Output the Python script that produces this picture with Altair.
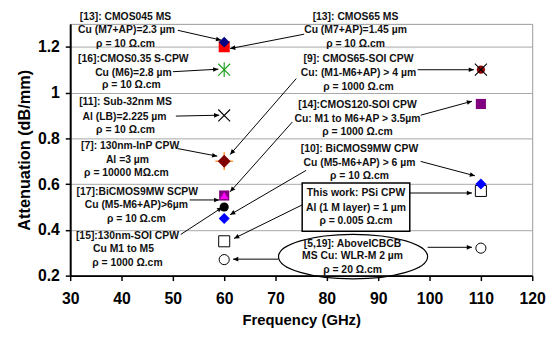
import math
import altair as alt
import pandas as pd

# ---------------- data ----------------
# measured points: frequency (GHz), attenuation (dB/mm)
f_13a = [60];        a_13a = [1.22]          # [13] CMOS045 MS
f_13b = [60];        a_13b = [1.20]          # [13] CMOS65 MS
f_16 = [60];         a_16 = [1.10]           # [16] CMOS0.35 S-CPW
f_11 = [60];         a_11 = [0.90]           # [11] Sub-32nm MS
f_9a = [60];         a_9a = [0.70]           # [9] CMOS65-SOI CPW @60
f_9b = [110];        a_9b = [1.10]           # [9] CMOS65-SOI CPW @110
f_7 = [60];          a_7 = [0.70]            # [7] 130nm-InP CPW
f_14 = [60, 110];    a_14 = [0.55, 0.95]     # [14] CMOS120-SOI CPW
f_17 = [60];         a_17 = [0.55]           # [17] BiCMOS9MW SCPW
f_15 = [60];         a_15 = [0.50]           # [15] 130nm-SOI CPW
f_10 = [60, 110];    a_10 = [0.45, 0.60]     # [10] BiCMOS9MW CPW
f_tw = [60, 110];    a_tw = [0.35, 0.57]     # This work PSi CPW
f_519 = [60, 110];   a_519 = [0.27, 0.32]    # [5,19] AboveICBCB

x_ticks = [30, 40, 50, 60, 70, 80, 90, 100, 110, 120]
y_ticks = [0.2, 0.4, 0.6, 0.8, 1.0, 1.2]

# annotation texts and their anchor (in data units)
label_text = [
    "[13]: CMOS045 MS", "Cu (M7+AP)=2.3 µm", "ρ = 10 Ω.cm",
    "[16]:CMOS0.35 S-CPW", "Cu (M6)=2.8 µm", "ρ = 10 Ω.cm",
    "[11]: Sub-32nm MS", "Al (LB)=2.225 µm", "ρ = 10 Ω.cm",
    "[7]: 130nm-InP CPW", "Al =3 µm", "ρ = 10000 MΩ.cm",
    "[17]:BiCMOS9MW SCPW", "Cu (M5-M6+AP)>6µm", "ρ = 10 Ω.cm",
    "[15]:130nm-SOI CPW", "Cu M1 to M5", "ρ = 1000 Ω.cm",
    "[13]: CMOS65 MS", "Cu (M7+AP)=1.45 µm", "ρ = 10 Ω.cm",
    "[9]: CMOS65-SOI CPW", "Cu: (M1-M6+AP) > 4 µm", "ρ = 1000 Ω.cm",
    "[14]:CMOS120-SOI CPW", "Cu: M1 to M6+AP > 3.5µm", "ρ = 1000 Ω.cm",
    "[10]: BiCMOS9MW CPW", "Cu (M5-M6+AP) > 6 µm", "ρ = 10 Ω.cm",
    "This work: PSi CPW", "Al (1 M layer) = 1 µm", "ρ = 0.005 Ω.cm",
    "[5,19]: AboveICBCB", "MS Cu: WLR-M 2 µm", "ρ = 20 Ω.cm",
]
label_x = [40.77, 40.96, 40.77, 42.31, 42.31, 41.92, 40.77, 40.58, 40.77,
           41.67, 41.15, 40.96, 43.08, 42.88, 42.88, 41.15, 40.38, 41.15,
           85.58, 85.58, 85.58, 86.15, 86.15, 86.15, 85.96, 85.96, 85.96,
           86.35, 86.35, 86.35, 85.67, 85.67, 85.67, 85.0, 85.0, 85.0]
label_y = [1.332, 1.273, 1.213, 1.147, 1.087, 1.031, 0.959, 0.894, 0.835,
           0.765, 0.707, 0.650, 0.566, 0.509, 0.447, 0.372, 0.315, 0.253,
           1.332, 1.272, 1.2125, 1.147, 1.087, 1.026, 0.944, 0.884, 0.828,
           0.755, 0.692, 0.634, 0.5595, 0.497, 0.440, 0.3366, 0.285, 0.2224]

# arrows: start -> tip (data units)
arrow_x1 = [50.96, 75.58, 50.00, 50.58, 50.96, 74.04, 97.69, 73.27, 98.27,
            75.96, 98.27, 75.19, 96.15, 70.58, 99.62, 53.27, 51.54]
arrow_y1 = [1.272, 1.255, 1.091, 0.897, 0.755, 1.061, 1.0996, 0.871, 0.901,
            0.660, 0.699, 0.509, 0.561, 0.272, 0.3237, 0.5306, 0.380]
arrow_x2 = [59.42, 61.15, 58.85, 59.04, 58.65, 61.15, 108.65, 61.15, 108.27,
            61.15, 108.85, 61.92, 108.27, 61.73, 108.27, 59.04, 59.62]
arrow_y2 = [1.229, 1.192, 1.102, 0.901, 0.722, 0.729, 1.0996, 0.566, 0.962,
            0.466, 0.636, 0.3625, 0.561, 0.272, 0.3237, 0.5306, 0.498]

# "This work" frame and [5,19] ellipse
box_x = [75.19]; box_x2 = [96.15]; box_y = [0.605]; box_y2 = [0.394]
ell_x = [85.1]; ell_y = [0.283]

# ---------------- chart ----------------
W, H = 468, 255
XD, YD = [30, 120], [0.2, 1.3]
FONT = "Liberation Sans"

xs = alt.Scale(domain=XD, nice=False, zero=False)
ys = alt.Scale(domain=YD, nice=False, zero=False)
xaxis = alt.Axis(values=x_ticks, title="Frequency (GHz)", grid=False,
                 labelFont=FONT, labelFontSize=16, labelFontWeight="bold",
                 labelColor="black", labelPadding=10, tickSize=5,
                 tickColor="black", tickWidth=1.5, domainColor="black",
                 domainWidth=2, titleFont=FONT, titleFontSize=15,
                 titleFontWeight="bold", titleColor="black",
                 titleX=W / 2, titleY=50, titleBaseline="alphabetic",
                 titleAlign="center", labelFlush=False)
yaxis = alt.Axis(values=y_ticks, format=".1~f", title="Attenuation (dB/mm)",
                 grid=True, gridColor="#a6a6a6", gridWidth=1,
                 labelFont=FONT, labelFontSize=16, labelFontWeight="bold",
                 labelColor="black", labelPadding=6, tickSize=5,
                 tickColor="black", tickWidth=1.5, domainColor="black",
                 domainWidth=2, titleFont=FONT, titleFontSize=16.5,
                 titleFontWeight="bold", titleColor="black",
                 titleX=-46, titleY=H / 2, titleAngle=270,
                 titleBaseline="middle", titleAlign="center", labelFlush=False)

X = alt.X("x:Q", scale=xs, axis=xaxis)
Y = alt.Y("y:Q", scale=ys, axis=yaxis)


def pts(f, a):
    return pd.DataFrame({"x": f, "y": a})


def marker(f, a, **kw):
    kw.setdefault("opacity", 1)
    return alt.Chart(pts(f, a)).mark_point(**kw).encode(x=X, y=Y)


XPATH = "M-1,-1L1,1M-1,1L1,-1"
STAR = "M-1,-1L1,1M-1,1L1,-1M0,-1.25L0,1.25"
PLUS = "M-1,0L1,0M0,-1L0,1"
HEAD = "M0,0L-1,-0.45L-1,0.45Z"
ELLIPSE = "M-1,0A1,0.298 0 1,1 1,0A1,0.298 0 1,1 -1,0Z"

# arrows
kx, ky = W / (XD[1] - XD[0]), H / (YD[1] - YD[0])
angles = [math.degrees(math.atan2(-(y2 - y1) * ky, (x2 - x1) * kx)) % 360
          for x1, y1, x2, y2 in zip(arrow_x1, arrow_y1, arrow_x2, arrow_y2)]
arr = pd.DataFrame({"x": arrow_x1, "y": arrow_y1, "x2": arrow_x2,
                    "y2": arrow_y2, "ang": angles})
rules = alt.Chart(arr).mark_rule(color="black", strokeWidth=1).encode(
    x=X, y=Y, x2="x2:Q", y2="y2:Q")
heads = alt.Chart(arr).mark_point(shape=HEAD, filled=True, color="black",
                                  size=110, opacity=1).encode(
    x=alt.X("x2:Q", scale=xs, axis=xaxis), y=alt.Y("y2:Q", scale=ys, axis=yaxis),
    angle=alt.Angle("ang:Q", scale=None))

box = alt.Chart(pd.DataFrame({"x": box_x, "x2": box_x2, "y": box_y, "y2": box_y2})
                ).mark_rect(fill="white", stroke="black", strokeWidth=1.5).encode(
    x=X, y=Y, x2="x2:Q", y2="y2:Q")
ellipse = marker(ell_x, ell_y, shape=ELLIPSE, filled=False, stroke="black",
                 strokeWidth=1.2, size=151 ** 2)

labels = alt.Chart(pd.DataFrame({"x": label_x, "y": label_y, "t": label_text})
                   ).mark_text(font=FONT, fontSize=10.5, fontWeight="bold",
                               color="#111", align="center",
                               baseline="middle").encode(x=X, y=Y, text="t:N")

layers = [
    rules, box, ellipse, labels, heads,
    marker(f_13b, a_13b, shape="square", filled=True, color="#ff0000", size=125),
    marker(f_13a, a_13a, shape="diamond", filled=True, color="#000080", size=120),
    marker(f_16, a_16, shape=STAR, filled=False, stroke="#22a022", strokeWidth=1.2, size=144),
    marker(f_11, a_11, shape=XPATH, filled=False, stroke="black", strokeWidth=1.1, size=144),
    marker(f_9a, a_9a, shape=PLUS, filled=False, stroke="#ff9a3c", strokeWidth=1.6, size=324),
    marker(f_7, a_7, shape="diamond", filled=True, color="#800000", size=170),
    marker(f_9b, a_9b, shape="circle", filled=True, color="#8b0000", size=70),
    marker(f_9b, a_9b, shape=XPATH, filled=False, stroke="black", strokeWidth=1.1, size=150),
    marker(f_14, a_14, shape="square", filled=True, color="#800080", size=105),
    marker(f_17, a_17, shape="triangle-up", filled=True, color="#ff00ff", size=70),
    marker(f_15, a_15, shape="circle", filled=True, color="black", size=85),
    marker(f_tw, a_tw, shape="square", filled=True, fill="white", stroke="black",
           strokeWidth=1, size=125),
    marker(f_10, a_10, shape="diamond", filled=True, color="#0000ff", size=125),
    marker(f_519, a_519, shape="circle", filled=True, fill="white", stroke="black",
           strokeWidth=1, size=105),
]

chart = alt.layer(*layers).properties(
    width=W, height=H,
    autosize=alt.AutoSizeParams(type="none"),
    padding={"left": 63, "top": 14, "right": 17, "bottom": 53},
).configure_view(stroke="#999999", strokeWidth=1)

chart.save("out.html", embed_options={"renderer": "svg", "actions": False})
